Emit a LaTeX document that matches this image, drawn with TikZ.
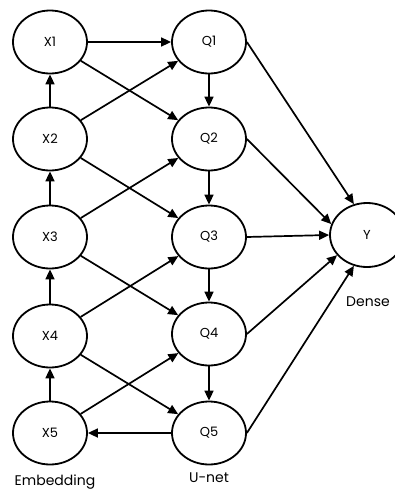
\documentclass[tikz,border=0pt]{standalone}
\usepackage{fontspec}
\setmainfont{Poppins}
\usetikzlibrary{shapes.geometric,arrows.meta}
\begin{document}
\begin{tikzpicture}[x=1pt,y=-1pt,
  nd/.style={ellipse, draw, line width=1.8pt, minimum width=74pt, minimum height=63pt, inner sep=0pt, font=\fontsize{13}{15}\selectfont},
  lbl/.style={font=\fontsize{14}{16}\selectfont, inner sep=0pt},
  arr/.style={line width=1.7pt, -{Triangle[length=10pt,width=9pt]}}]
\path[use as bounding box, fill=white] (0,0) rectangle (395,490);
\begin{scope}
\clip (0,0) rectangle (395,490);
\node[nd] (X1) at (50,42) {X1};
\node[nd] (X2) at (50,139) {X2};
\node[nd] (X3) at (50,237) {X3};
\node[nd] (X4) at (50,336) {X4};
\node[nd] (X5) at (50,433) {X5};
\node[nd] (Q1) at (209,42) {Q1};
\node[nd] (Q2) at (209,139) {Q2};
\node[nd] (Q3) at (209,237) {Q3};
\node[nd] (Q4) at (209,334) {Q4};
\node[nd] (Q5) at (209,433) {Q5};
\node[nd, minimum height=64pt] (Y) at (367,235) {Y};
\end{scope}
\node[lbl] (le) at (55,482) {Embedding};
\node[lbl] (lu) at (209,478) {U-net};
\node[lbl] (ld) at (368,302) {Dense};
% X column upward
\draw[arr] (X2) -- (X1);
\draw[arr] (X3) -- (X2);
\draw[arr] (X4) -- (X3);
\draw[arr] (X5) -- (X4);
% X to Q
\draw[arr] (X1) -- (Q1);
\draw[arr] (X1) -- (Q2);
\draw[arr] (X2) -- (Q1);
\draw[arr] (X2) -- (Q3);
\draw[arr] (X3) -- (Q2);
\draw[arr] (X3) -- (Q4);
\draw[arr] (X4) -- (Q3);
\draw[arr] (X4) -- (Q5);
\draw[arr] (X5) -- (Q4);
\draw[arr] (Q5) -- (X5);
% Q column downward
\draw[arr] (Q1) -- (Q2);
\draw[arr] (Q2) -- (Q3);
\draw[arr] (Q3) -- (Q4);
\draw[arr] (Q4) -- (Q5);
% Q to Y
\draw[arr] (Q1.east) -- (Y.113);
\draw[arr] (Q2.east) -- (Y.163);
\draw[arr] (Q3.east) -- (Y.west);
\draw[arr] (Q4.east) -- (Y.214);
\draw[arr] (Q5.east) -- (Y.247);
\end{tikzpicture}
\end{document}
